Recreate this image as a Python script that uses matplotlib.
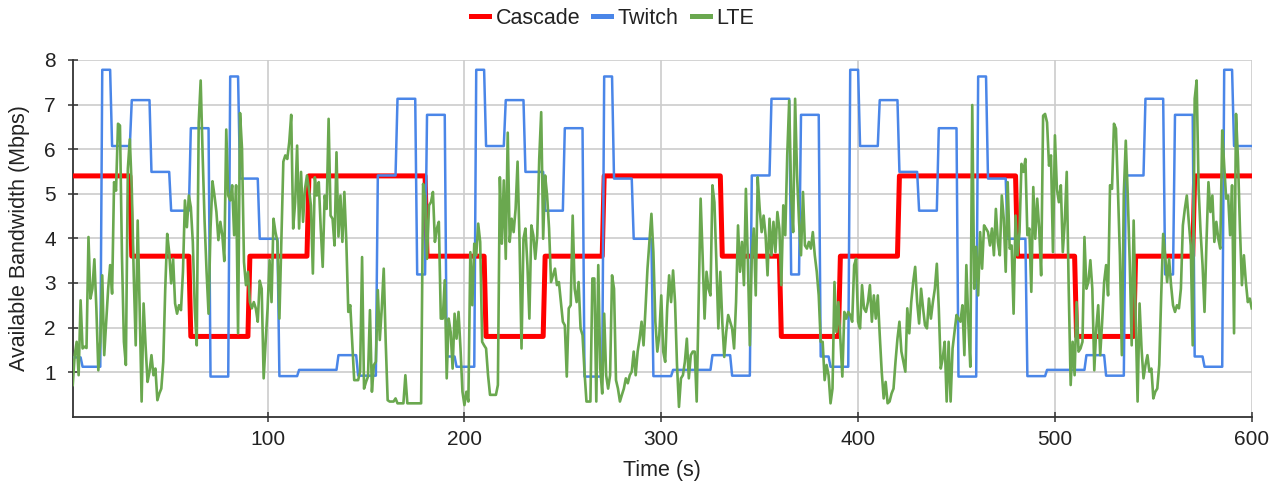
import numpy as np
import matplotlib
matplotlib.use("Agg")
import matplotlib.pyplot as plt

plt.rcParams['font.family'] = ['Liberation Sans', 'DejaVu Sans']

# Cascade: constant levels (Mbps) and how many seconds each lasts
cascade_levels = [5.4, 3.6, 1.8, 3.6, 5.4, 3.6, 1.8, 3.6, 5.4, 3.6, 1.8, 3.6, 5.4, 3.6, 1.8, 3.6, 5.4]
cascade_secs = [30, 30, 30, 30, 60, 30, 30, 30, 60, 30, 30, 30, 60, 30, 30, 30, 30]

# Twitch: step levels and durations (s)
twitch_levels = [
    1.33, 1.12, 7.78, 6.07, 7.10, 5.49, 4.62, 6.47, 0.90, 7.63,
    5.34, 3.99, 0.91, 1.05, 1.38, 0.92, 5.41, 7.13, 3.19, 6.77,
    1.35, 1.12, 7.78, 6.07, 7.10, 5.49, 4.62, 6.47, 0.90, 7.63,
    5.34, 3.99, 0.91, 1.05, 1.38, 0.92, 5.41, 7.13, 3.19, 6.77,
    1.35, 1.12, 7.78, 6.07, 7.10, 5.49, 4.62, 6.47, 0.90, 7.63,
    5.34, 3.99, 0.91, 1.05, 1.38, 0.92, 5.41, 7.13, 3.19, 6.77,
    1.35, 1.12, 7.78, 6.07,
]
twitch_secs = [
    5, 10, 5, 10, 10, 10, 10, 10, 10, 5,
    10, 10, 10, 20, 10, 10, 10, 10, 5, 10,
    5, 10, 5, 10, 10, 10, 10, 10, 10, 5,
    10, 10, 10, 20, 10, 10, 10, 10, 5, 10,
    5, 10, 5, 10, 10, 10, 10, 10, 10, 5,
    10, 10, 10, 20, 10, 10, 10, 10, 5, 10,
    5, 10, 5, 10,
]

# LTE trace, one value per second (t = 1..600)
lte = [
    0.71, 1.38, 1.68, 0.93, 2.61, 1.53, 1.57, 1.54, 4.03, 2.65,
    2.87, 3.53, 2.43, 1.04, 1.68, 3.17, 1.38, 2.13, 2.87, 3.40,
    2.76, 5.26, 5.07, 6.57, 6.53, 3.62, 1.68, 1.16, 5.56, 6.22,
    5.11, 3.17, 1.60, 4.40, 2.43, 0.34, 2.54, 1.60, 0.78, 1.01,
    1.38, 0.93, 1.08, 0.37, 0.52, 0.63, 1.23, 2.87, 4.10, 3.69,
    2.99, 3.54, 2.54, 2.31, 2.50, 2.39, 3.25, 4.85, 4.25, 4.96,
    4.70, 3.92, 2.43, 1.60, 6.60, 7.54, 5.86, 4.37, 3.25, 2.31,
    4.22, 5.28, 4.96, 4.59, 3.96, 4.37, 4.07, 3.49, 6.44, 4.96,
    4.85, 5.19, 4.07, 5.19, 1.87, 6.81, 6.01, 3.47, 2.95, 3.25,
    2.57, 2.43, 2.57, 2.43, 2.13, 3.05, 2.87, 0.86, 1.68, 2.43,
    3.51, 2.57, 4.44, 4.14, 3.92, 2.20, 3.92, 5.72, 5.86, 5.78,
    6.16, 6.77, 4.22, 4.81, 6.08, 4.22, 5.49, 4.37, 5.11, 5.41,
    5.11, 4.74, 3.21, 5.37, 4.96, 5.26, 4.22, 3.36, 4.96, 4.66,
    6.68, 4.51, 4.44, 3.84, 5.93, 4.04, 4.96, 3.92, 5.04, 3.92,
    2.35, 2.50, 1.68, 0.82, 0.82, 0.82, 1.01, 3.58, 0.63, 0.78,
    0.90, 2.39, 0.56, 1.16, 1.23, 2.84, 1.72, 2.43, 3.32, 1.68,
    0.37, 0.34, 0.34, 0.34, 0.41, 0.30, 0.30, 0.30, 0.30, 0.93,
    0.30, 0.30, 0.30, 0.30, 0.30, 0.30, 0.30, 0.30, 5.22, 4.89,
    3.54, 4.74, 4.81, 5.04, 3.92, 4.22, 4.37, 2.20, 2.20, 3.06,
    0.86, 2.20, 1.90, 1.08, 2.31, 1.75, 2.35, 1.53, 0.56, 0.26,
    0.56, 0.34, 3.69, 2.50, 3.88, 3.62, 4.33, 3.92, 1.68, 1.60,
    1.53, 0.93, 0.49, 0.49, 0.49, 0.49, 0.71, 5.37, 3.88, 5.30,
    3.54, 6.37, 3.92, 4.44, 4.14, 4.66, 5.72, 3.92, 1.53, 3.99,
    4.22, 3.40, 2.20, 4.29, 4.07, 3.54, 4.07, 5.78, 6.83, 3.99,
    5.41, 4.96, 4.22, 3.02, 3.17, 3.32, 2.95, 3.02, 2.57, 2.13,
    2.05, 0.90, 2.43, 2.50, 4.51, 2.87, 2.57, 3.02, 1.98, 1.83,
    1.01, 0.34, 0.34, 0.34, 3.10, 3.10, 0.34, 3.40, 1.08, 0.52,
    2.31, 0.93, 0.63, 0.93, 3.17, 2.87, 0.82, 0.63, 0.34, 0.49,
    0.63, 0.86, 0.75, 0.93, 1.01, 1.46, 0.93, 1.46, 1.75, 2.13,
    1.60, 2.43, 3.32, 3.92, 4.55, 3.69, 2.13, 1.46, 1.83, 2.72,
    1.46, 1.23, 2.43, 3.17, 2.57, 3.28, 2.57, 1.16, 0.22, 0.86,
    0.93, 1.23, 1.75, 0.86, 1.38, 1.46, 1.46, 0.34, 2.57, 4.89,
    3.62, 2.20, 3.25, 2.87, 2.72, 5.19, 4.81, 3.47, 1.98, 3.25,
    2.13, 1.34, 1.90, 2.28, 2.13, 1.98, 1.53, 2.57, 4.29, 3.25,
    3.92, 2.95, 5.11, 3.47, 1.60, 3.62, 4.22, 2.72, 5.37, 4.66,
    4.14, 4.51, 4.07, 3.17, 4.44, 3.62, 4.37, 3.69, 4.59, 4.22,
    2.95, 4.74, 4.07, 5.86, 7.09, 4.96, 4.14, 7.13, 5.41, 4.37,
    3.62, 5.04, 3.84, 3.77, 3.92, 3.77, 4.14, 3.62, 3.25, 2.72,
    1.68, 1.68, 0.82, 1.16, 0.93, 0.30, 0.63, 3.02, 1.90, 2.57,
    1.75, 0.90, 2.35, 2.20, 2.35, 2.28, 2.13, 3.40, 3.54, 2.13,
    1.98, 2.95, 2.43, 2.35, 2.57, 2.95, 2.13, 2.72, 2.20, 2.72,
    1.83, 1.01, 0.41, 0.78, 0.30, 0.34, 0.52, 0.63, 1.23, 1.75,
    2.13, 1.46, 1.23, 1.01, 2.43, 1.87, 2.57, 3.02, 3.36, 2.57,
    2.09, 2.87, 2.43, 2.05, 1.98, 2.65, 2.20, 2.57, 2.87, 3.43,
    2.43, 1.08, 1.31, 1.68, 0.34, 1.68, 0.34, 1.53, 1.90, 2.28,
    2.20, 2.13, 2.50, 1.38, 3.40, 2.13, 1.12, 6.99, 2.87, 3.81,
    2.72, 4.14, 3.32, 4.29, 4.22, 4.14, 3.84, 4.22, 3.62, 4.66,
    3.92, 3.62, 4.96, 4.44, 3.25, 5.26, 3.77, 3.84, 2.31, 4.51,
    3.62, 4.14, 5.67, 5.49, 5.78, 4.07, 4.22, 2.80, 5.15, 3.99,
    4.89, 4.22, 3.17, 6.75, 6.79, 6.60, 5.63, 5.86, 3.69, 6.31,
    5.11, 4.81, 5.19, 3.69, 4.37, 5.49, 2.87, 0.71, 1.68, 0.93,
    2.57, 1.46, 1.53, 1.68, 4.03, 2.87, 3.02, 3.51, 2.87, 1.04,
    1.98, 2.50, 1.38, 2.13, 3.02, 3.40, 2.72, 5.19, 5.11, 6.57,
    6.46, 5.11, 3.62, 1.38, 5.00, 6.19, 4.96, 3.47, 1.60, 4.40,
    2.28, 0.34, 2.54, 1.53, 0.86, 1.16, 1.38, 1.01, 1.08, 0.41,
    0.56, 0.63, 1.16, 2.72, 4.10, 3.62, 3.02, 3.54, 2.95, 2.50,
    2.35, 2.50, 2.43, 2.87, 4.29, 4.66, 4.96, 4.37, 3.84, 1.60,
    7.13, 7.54, 5.11, 4.14, 3.40, 2.35, 3.92, 5.26, 4.59, 4.96,
    3.92, 4.37, 3.99, 3.77, 6.42, 5.63, 4.89, 4.96, 4.07, 5.19,
    1.87, 6.79, 5.78, 4.22, 2.95, 3.62, 3.02, 2.57, 2.65, 2.43,
]

x_ticks = [100, 200, 300, 400, 500, 600]
y_ticks = [1, 2, 3, 4, 5, 6, 7, 8]


def main():
    t = np.arange(1, len(lte) + 1)
    cascade = np.repeat(cascade_levels, cascade_secs)
    twitch = np.repeat(twitch_levels, twitch_secs)

    fig = plt.figure(figsize=(12.76, 4.86), dpi=100)
    ax = fig.add_axes([0.057, 0.1426, 0.924, 0.734])

    ax.plot(t, cascade, color='#ff0000', lw=3.6, label='Cascade', zorder=3)
    ax.plot(t, twitch, color='#4a86e8', lw=1.8, label='Twitch', zorder=4)
    ax.plot(t, lte, color='#6aa84f', lw=1.9, label='LTE', zorder=5)

    ax.set_xlim(1, 600)
    ax.set_ylim(0, 8)
    ax.set_xticks(x_ticks)
    ax.set_yticks(y_ticks)
    ax.grid(True, color='#cccccc', lw=1.2)
    ax.set_axisbelow(True)
    for s in ['top', 'right']:
        ax.spines[s].set_visible(False)
    for s in ['left', 'bottom']:
        ax.spines[s].set_color('#333333')
        ax.spines[s].set_linewidth(1.3)
    ax.tick_params(direction='inout', length=6.5, width=1.1, color='#333333',
                   labelsize=15, labelcolor='#222222')
    ax.tick_params(axis='y', pad=9)
    ax.tick_params(axis='x', pad=6)

    ax.set_xlabel('Time (s)', fontsize=15.5, color='#222222', labelpad=8)
    ax.set_ylabel('Available Bandwidth (Mbps)', fontsize=15.5, color='#222222', labelpad=10)

    handles, labels = ax.get_legend_handles_labels()
    leg = fig.legend(handles, labels, loc='center', bbox_to_anchor=(0.48, 1 - 18 / 486),
                     ncol=3, frameon=False, fontsize=15.5, handlelength=0.85,
                     handletextpad=0.3, columnspacing=0.6)
    for line in leg.get_lines():
        line.set_linewidth(3.6)
    for txt in leg.get_texts():
        txt.set_color('#222222')

    fig.savefig('out.png', dpi=100)


if __name__ == "__main__":
    main()
